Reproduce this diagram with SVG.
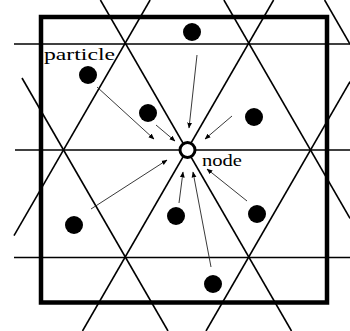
<svg xmlns="http://www.w3.org/2000/svg" width="350" height="331" viewBox="0 0 350 331">
<style>
.lat{stroke:#000;stroke-width:1.6;fill:none}
.arr{stroke:#222;stroke-width:0.9;fill:none;marker-end:url(#ah)}
.dot{fill:#000}
.lbl{font-family:"Liberation Serif","DejaVu Serif",serif;font-size:17px;fill:#000}
</style>
<defs>
<marker id="ah" viewBox="0 0 10 10" refX="9" refY="5" markerWidth="6" markerHeight="6" markerUnits="userSpaceOnUse" orient="auto">
<path d="M0,1 L10,5 L0,9 Z" fill="#000"/>
</marker>
</defs>
<rect width="350" height="331" fill="#fff"/>
<g id="lattice">
<line class="lat" x1="14" y1="44" x2="350" y2="44"/>
<line class="lat" x1="15" y1="150" x2="350" y2="150"/>
<line class="lat" x1="14" y1="257.5" x2="350" y2="257.5"/>
<line class="lat" x1="22" y1="78" x2="168" y2="331"/>
<line class="lat" x1="100.4" y1="0" x2="291.5" y2="331"/>
<line class="lat" x1="223.9" y1="0" x2="350" y2="218.4"/>
<line class="lat" x1="324.6" y1="0" x2="350" y2="44"/>
<line class="lat" x1="150.1" y1="0" x2="14" y2="235.7"/>
<line class="lat" x1="273.6" y1="0" x2="82.5" y2="331"/>
<line class="lat" x1="350" y1="81.6" x2="206" y2="331"/>
</g>
<g id="domain">
<rect x="41" y="17" width="286" height="285.5" fill="none" stroke="#000" stroke-width="4.5"/>
</g>
<g id="connectors">
<line class="arr" x1="97" y1="87" x2="154" y2="139"/>
<line class="arr" x1="156" y1="125" x2="175" y2="141"/>
<line class="arr" x1="197" y1="55" x2="189" y2="128"/>
<line class="arr" x1="232" y1="116" x2="205" y2="139"/>
<line class="arr" x1="91" y1="209" x2="167" y2="160"/>
<line class="arr" x1="179" y1="203" x2="183" y2="172"/>
<line class="arr" x1="211" y1="267" x2="193" y2="172"/>
<line class="arr" x1="247" y1="201" x2="207" y2="169"/>
</g>
<g id="particles">
<circle class="dot" cx="88" cy="75" r="9"/>
<circle class="dot" cx="148" cy="113" r="9"/>
<circle class="dot" cx="192" cy="32" r="9"/>
<circle class="dot" cx="254" cy="117" r="9"/>
<circle class="dot" cx="74" cy="225" r="9"/>
<circle class="dot" cx="176" cy="216" r="9"/>
<circle class="dot" cx="257" cy="214" r="9"/>
<circle class="dot" cx="213" cy="284" r="9"/>
</g>
<g id="node">
<circle cx="187.5" cy="150" r="7.5" fill="#fff" stroke="#000" stroke-width="3"/>
<text class="lbl" x="202" y="166" textLength="40" lengthAdjust="spacingAndGlyphs">node</text>
</g>
<g id="particle-label">
<text class="lbl" x="44" y="60" textLength="71" lengthAdjust="spacingAndGlyphs">particle</text>
</g>
</svg>
